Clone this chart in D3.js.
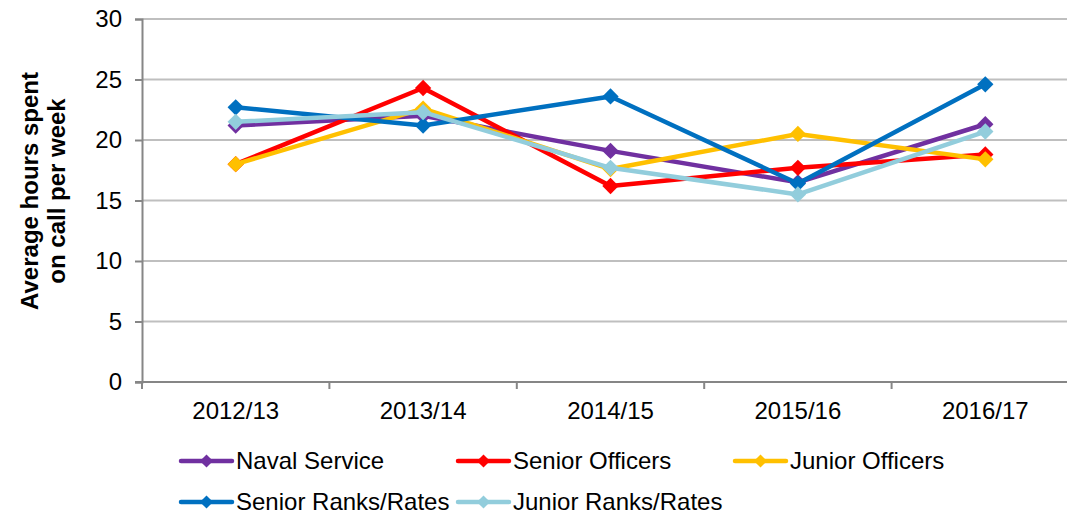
<!DOCTYPE html>
<html>
<head>
<meta charset="utf-8">
<script src="https://cdn.jsdelivr.net/npm/d3@7"></script>
<style>
  body { margin: 0; background: #fff; }
  text { font-family: "Liberation Sans", Arial, sans-serif; fill: #000; }
</style>
</head>
<body>
<div id="chart"></div>
<script>
// data
const years = ["2012/13", "2013/14", "2014/15", "2015/16", "2016/17"];
const navalService = [21.2, 22.0, 19.1, 16.5, 21.3];
const seniorOfficers = [18.0, 24.3, 16.2, 17.7, 18.8];
const juniorOfficers = [18.0, 22.6, 17.6, 20.5, 18.4];
const seniorRanks = [22.7, 21.2, 23.6, 16.4, 24.6];
const juniorRanks = [21.5, 22.3, 17.7, 15.5, 20.7];
const yTicks = [0, 5, 10, 15, 20, 25, 30];

const series = [
    {name: "Naval Service", values: navalService, color: "#7030A0"},
    {name: "Senior Officers", values: seniorOfficers, color: "#FF0000"},
    {name: "Junior Officers", values: juniorOfficers, color: "#FFC000"},
    {name: "Senior Ranks/Rates", values: seniorRanks, color: "#0070C0"},
    {name: "Junior Ranks/Rates", values: juniorRanks, color: "#92CDDC"},
];

const width = 1067, height = 517;
const plot = {left: 142, right: 1079, top: 19, bottom: 382};

const svg = d3.select("#chart").append("svg")
    .attr("width", width)
    .attr("height", height);

const x = d3.scaleBand().domain(years).range([plot.left, plot.right]);
const y = d3.scaleLinear().domain([0, 30]).range([plot.bottom, plot.top]);

// gridlines
svg.append("g")
    .selectAll("line")
    .data(yTicks.filter(d => d > 0))
    .join("line")
    .attr("x1", plot.left).attr("x2", width)
    .attr("y1", d => y(d)).attr("y2", d => y(d))
    .attr("stroke", "#BFBFBF")
    .attr("stroke-width", 2);

// y axis
const yAxis = svg.append("g")
    .attr("transform", `translate(${plot.left},0)`)
    .call(d3.axisLeft(y).tickValues(yTicks).tickSize(7).tickPadding(13));
yAxis.select(".domain").attr("stroke", "#868686").attr("stroke-width", 2);
yAxis.selectAll(".tick line").attr("stroke", "#868686").attr("stroke-width", 2);
yAxis.selectAll(".tick text")
    .style("font-size", "24px")
    .style("font-family", "Liberation Sans, Arial, sans-serif")
    .attr("fill", "#000");

// x axis
const xAxis = svg.append("g")
    .attr("transform", `translate(0,${plot.bottom})`)
    .call(d3.axisBottom(x).tickSize(0).tickPadding(20));
xAxis.select(".domain").remove();
xAxis.append("line")
    .attr("x1", plot.left - 7).attr("x2", width)
    .attr("stroke", "#868686").attr("stroke-width", 2);
xAxis.selectAll(".tick text")
    .style("font-size", "24px")
    .style("font-family", "Liberation Sans, Arial, sans-serif")
    .attr("fill", "#000");
// category boundary ticks
xAxis.append("g")
    .selectAll("line")
    .data(years.concat(["end"]))
    .join("line")
    .attr("x1", (d, i) => plot.left + i * x.bandwidth())
    .attr("x2", (d, i) => plot.left + i * x.bandwidth())
    .attr("y1", 0).attr("y2", 7)
    .attr("stroke", "#868686").attr("stroke-width", 2);

// y axis title
const title = svg.append("text")
    .attr("transform", "translate(43,191) rotate(-90)")
    .attr("text-anchor", "middle")
    .style("font-size", "24px")
    .style("font-weight", "bold");
title.append("tspan").attr("x", 0).attr("dy", "-0.2em").text("Average hours spent");
title.append("tspan").attr("x", 0).attr("dy", "1.1em").text("on call per week");

// lines + markers
const line = d3.line()
    .x((d, i) => x(years[i]) + x.bandwidth() / 2)
    .y(d => y(d));

const diamond = d3.symbol().type(d3.symbolDiamond2).size(170);

series.forEach(s => {
    const g = svg.append("g");
    g.append("path")
        .attr("d", line(s.values))
        .attr("fill", "none")
        .attr("stroke", s.color)
        .attr("stroke-width", 4.5)
        .attr("stroke-linejoin", "round");
    g.selectAll("path.marker")
        .data(s.values)
        .join("path")
        .attr("class", "marker")
        .attr("d", diamond)
        .attr("transform", (d, i) => `translate(${x(years[i]) + x.bandwidth() / 2},${y(d)})`)
        .attr("fill", s.color);
});

// legend
const legendCols = [181, 458, 735];
const legendRows = [461, 502];
const legend = svg.append("g")
    .selectAll("g")
    .data(series)
    .join("g")
    .attr("transform", (d, i) => `translate(${legendCols[i % 3]},${legendRows[Math.floor(i / 3)]})`);
legend.append("line")
    .attr("x1", 0).attr("x2", 51)
    .attr("stroke", d => d.color)
    .attr("stroke-width", 4.5)
    .attr("stroke-linecap", "round");
legend.append("path")
    .attr("d", d3.symbol().type(d3.symbolDiamond2).size(110))
    .attr("transform", "translate(25.5,0)")
    .attr("fill", d => d.color);
legend.append("text")
    .attr("x", 55)
    .attr("dy", "0.35em")
    .style("font-size", "24px")
    .text(d => d.name);
</script>
</body>
</html>
